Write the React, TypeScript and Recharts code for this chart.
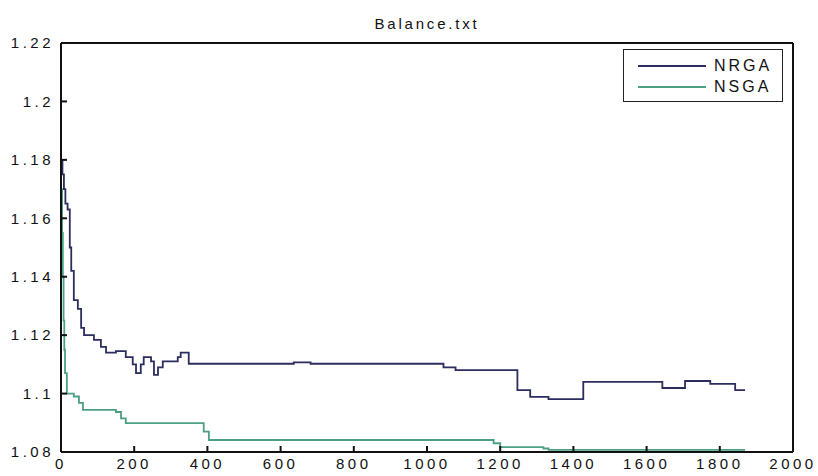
import React from "react";
import { LineChart, Line, XAxis, YAxis, Legend } from "recharts";

// iteration at which each value starts (stepwise curves)
const nrgaX = [0, 4, 8, 12, 18, 24, 28, 35, 46, 55, 63, 90, 109, 123, 150, 177, 196, 205, 218, 226, 246, 254, 265, 278, 319, 327, 349, 636, 682, 1045, 1078, 1247, 1282, 1332, 1427, 1643, 1705, 1774, 1842, 1869];
const nrgaY = [1.18, 1.175, 1.17, 1.165, 1.163, 1.15, 1.142, 1.132, 1.129, 1.1225, 1.12, 1.1184, 1.116, 1.114, 1.1145, 1.1125, 1.11, 1.107, 1.11, 1.1125, 1.111, 1.1064, 1.109, 1.111, 1.1125, 1.114, 1.1102, 1.1107, 1.1102, 1.109, 1.108, 1.1012, 1.0989, 1.0981, 1.104, 1.1019, 1.1043, 1.1033, 1.1012, 1.1012];

const nsgaX = [0, 3, 5, 7, 9, 11, 16, 35, 49, 60, 150, 164, 177, 390, 404, 1182, 1200, 1318, 1332, 1869];
const nsgaY = [1.17, 1.155, 1.14, 1.125, 1.115, 1.107, 1.1, 1.099, 1.0968, 1.0944, 1.0937, 1.0915, 1.0899, 1.087, 1.0841, 1.083, 1.0817, 1.0812, 1.0807, 1.0807];

const xTicks = [0, 200, 400, 600, 800, 1000, 1200, 1400, 1600, 1800, 2000];
const yTicks = [1.08, 1.1, 1.12, 1.14, 1.16, 1.18, 1.2, 1.22];

const seriesNames = ["NRGA", "NSGA"];
const seriesColors = ["#2b2d5e", "#4aa080"];

const nrga = nrgaX.map((x, i) => ({ x, y: nrgaY[i] }));
const nsga = nsgaX.map((x, i) => ({ x, y: nsgaY[i] }));

const font = '"Liberation Sans", Arial, sans-serif';
const tickStyle = { fontSize: 15, fill: "#111", fontFamily: font, letterSpacing: 3.5 };

function BoxLegend() {
  return (
    <div style={{ width: 158, height: 51, border: "1.5px solid #222", background: "#fff", fontFamily: font }}>
      {seriesNames.map((n, i) => (
        <div key={n} style={{ display: "flex", alignItems: "center", height: 21, marginTop: i === 0 ? 5 : 0 }}>
          <div style={{ width: 68, height: 0, borderTop: `2px solid ${seriesColors[i]}`, marginLeft: 14, marginRight: 8 }} />
          <span style={{ fontSize: 16, color: "#111", letterSpacing: 3 }}>{n}</span>
        </div>
      ))}
    </div>
  );
}

export default function App() {
  return (
    <div style={{ position: "absolute", left: 0, top: 0, width: 818, height: 476, background: "#fff" }}>
      <div style={{ position: "absolute", left: 61, width: 732, top: 15, textAlign: "center", fontFamily: font, fontSize: 15, color: "#111", letterSpacing: 2.8 }}>
        Balance.txt
      </div>
      <LineChart width={818} height={476} margin={{ top: 0, right: 0, bottom: 0, left: 0 }}>
        <XAxis xAxisId="b" type="number" dataKey="x" domain={[0, 2000]} ticks={xTicks} height={24}
          tickSize={-6} tickMargin={12} stroke="#111" strokeWidth={2} tick={tickStyle} allowDataOverflow />
        <XAxis xAxisId="t" orientation="top" type="number" dataKey="x" domain={[0, 2000]} ticks={xTicks} height={43}
          tickSize={-6} stroke="#111" strokeWidth={2} tick={false} />
        <YAxis yAxisId="l" type="number" domain={[1.08, 1.22]} ticks={yTicks} width={61}
          tickSize={-6} tickMargin={13} stroke="#111" strokeWidth={2} tick={tickStyle}
          tickFormatter={(v: number) => String(+v.toFixed(2))} allowDataOverflow />
        <YAxis yAxisId="r" orientation="right" type="number" domain={[1.08, 1.22]} ticks={yTicks} width={25}
          tickSize={-6} stroke="#111" strokeWidth={2} tick={false} />
        <Legend layout="horizontal" verticalAlign="middle" content={() => <BoxLegend />}
          wrapperStyle={{ position: "absolute", left: 623, top: 49, width: 162 }} />
        <Line xAxisId="b" yAxisId="l" data={nrga} dataKey="y" name={seriesNames[0]} type="stepAfter"
          stroke={seriesColors[0]} strokeWidth={1.8} dot={false} isAnimationActive={false} />
        <Line xAxisId="b" yAxisId="l" data={nsga} dataKey="y" name={seriesNames[1]} type="stepAfter"
          stroke={seriesColors[1]} strokeWidth={1.8} dot={false} isAnimationActive={false} />
      </LineChart>
    </div>
  );
}
